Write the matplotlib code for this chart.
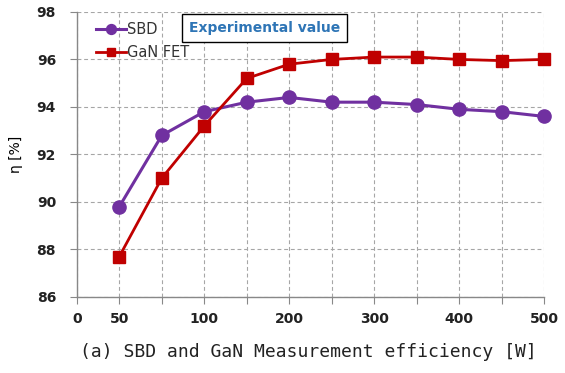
import matplotlib
matplotlib.use("Agg")
import matplotlib.pyplot as plt
import numpy as np

categories = ["0", "50", "75", "100", "150", "200", "250", "300", "350", "400", "450", "500"]
tick_labels = ["0", "50", "", "100", "", "200", "", "300", "", "400", "", "500"]
sbd = [None, 89.8, 92.8, 93.8, 94.2, 94.4, 94.2, 94.2, 94.1, 93.9, 93.8, 93.6]
gan = [None, 87.7, 91.0, 93.2, 95.2, 95.8, 96.0, 96.1, 96.1, 96.0, 95.95, 96.0]
y_ticks = [86, 88, 90, 92, 94, 96, 98]

fig = plt.figure(figsize=(5.65, 3.73), dpi=100)
ax = fig.add_axes([0.136, 0.204, 0.827, 0.764])

x = np.arange(len(categories))
sbd_arr = np.array([np.nan if v is None else v for v in sbd], dtype=float)
gan_arr = np.array([np.nan if v is None else v for v in gan], dtype=float)

ax.plot(x, sbd_arr, color="#7030A0", lw=2.2, marker="o", ms=9.5, label="SBD", zorder=3, clip_on=False)
ax.plot(x, gan_arr, color="#C00000", lw=2.0, marker="s", ms=8.5, label="GaN FET", zorder=4, clip_on=False)

ax.set_xlim(0, len(categories) - 1)
ax.set_ylim(86, 98)
ax.set_xticks(x)
ax.set_xticklabels(tick_labels)
ax.set_yticks(y_ticks)

for lbl in ax.get_xticklabels() + ax.get_yticklabels():
    lbl.set_fontweight("bold")
    lbl.set_fontsize(10)
    lbl.set_color("#222222")

ax.tick_params(axis="x", direction="out", length=5, color="#888888", pad=6)
ax.tick_params(axis="y", direction="out", length=5, color="#888888", pad=10)

ax.grid(True, color="#A6A6A6", linestyle=(0, (3.5, 2.5)), linewidth=0.8)
ax.set_axisbelow(True)
for s in ["top", "right"]:
    ax.spines[s].set_visible(False)
for s in ["left", "bottom"]:
    ax.spines[s].set_color("#888888")
    ax.spines[s].set_linewidth(1.0)

ax.set_ylabel("η [%]", fontsize=10, labelpad=10)

leg = ax.legend(loc="upper left", bbox_to_anchor=(0.02, 1.0), frameon=False,
                fontsize=10.5, handlelength=2.0, handletextpad=0.1, borderaxespad=0.3,
                labelspacing=0.55, markerscale=0.75)
for t in leg.get_texts():
    t.set_color("#333333")

ax.text(0.240, 0.945, "Experimental value", transform=ax.transAxes, ha="left", va="center",
        fontsize=10, fontweight="bold", color="#2E75B6",
        bbox=dict(boxstyle="square,pad=0.5", facecolor="white", edgecolor="black", linewidth=1.0),
        zorder=5)

fig.text(0.545, 0.055, "(a) SBD and GaN Measurement efficiency [W]", ha="center", va="center",
         fontsize=13, family=["DejaVu Sans Mono"], color="#222222")

fig.savefig("out.png", dpi=100)
